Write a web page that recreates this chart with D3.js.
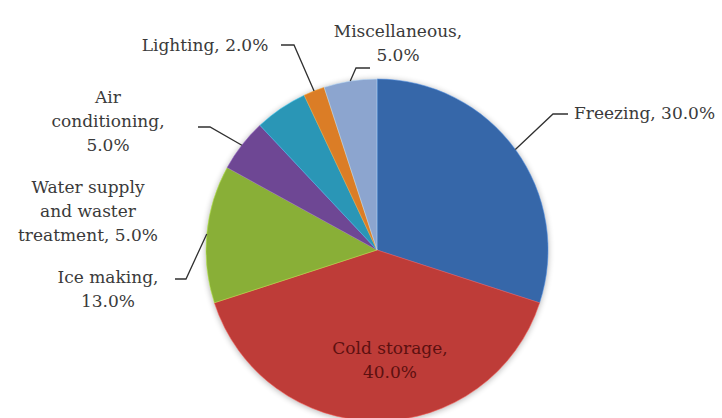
<!DOCTYPE html>
<html>
<head>
<meta charset="utf-8">
<script src="https://cdn.jsdelivr.net/npm/d3@7"></script>
<style>
  html, body { margin: 0; padding: 0; background: #fff; }
  svg { display: block; }
  .lbl { font-family: "DejaVu Serif", "Liberation Serif", serif; font-size: 17px; fill: #3a3a3a; }
  .lbl.inside { fill: #5c1010; }
  .leader { fill: none; stroke: #303030; stroke-width: 1.3; }
</style>
</head>
<body>
<div id="chart"></div>
<script>
// ===== data =====
const categories = ["Freezing", "Cold storage", "Ice making", "Air conditioning",
  "Water supply and waster treatment", "Lighting", "Miscellaneous"];
const values = [30, 40, 13, 5, 5, 2, 5];
const colors = ["#3c73bc", "#d4433e", "#98c33d", "#7a4fa5", "#2fa7cb", "#f48b2a", "#9cb8e6"];

// label layout (text lines, text anchor point, leader elbow) – placed as in the original
const labelLayout = [
  { lines: ["Freezing, 30.0%"], x: 574, y: 119, anchor: "start", elbow: [[553, 114], [568, 114]] },
  { lines: ["Cold storage,", "40.0%"], x: 390, y: 354, anchor: "middle", inside: true },
  { lines: ["Ice making,", "13.0%"], x: 108, y: 283, anchor: "middle", elbow: [[186, 279], [175, 279]] },
  { lines: ["Air", "conditioning,", "5.0%"], x: 108, y: 103, anchor: "middle", elbow: [[210, 127], [198, 127]] },
  { lines: ["Water supply", "and waster", "treatment, 5.0%"], x: 88, y: 193, anchor: "middle" },
  { lines: ["Lighting, 2.0%"], x: 205, y: 51, anchor: "middle", elbow: [[294, 45], [281, 45]] },
  { lines: ["Miscellaneous,", "5.0%"], x: 398, y: 37, anchor: "middle", elbow: [[356, 68], [370, 68]] }
];

const W = 722, H = 418;
const cx = 377, cy = 250, R = 171;
const lineH = 24;

const svg = d3.select("#chart").append("svg").attr("width", W).attr("height", H);
const defs = svg.append("defs");

// soft shadow
const sh = defs.append("filter").attr("id", "shadow").attr("x", "-10%").attr("y", "-10%")
  .attr("width", "120%").attr("height", "120%")
  .attr("color-interpolation-filters", "sRGB");
sh.append("feGaussianBlur").attr("in", "SourceAlpha").attr("stdDeviation", 3);
sh.append("feOffset").attr("dx", 0).attr("dy", 1).attr("result", "b");
sh.append("feComponentTransfer").append("feFuncA").attr("type", "linear").attr("slope", 0.3);
const mg = sh.append("feMerge");
mg.append("feMergeNode");
mg.append("feMergeNode").attr("in", "SourceGraphic");

// bevel-like radial gradients
colors.forEach((c, i) => {
  const base = d3.color(c);
  const g = defs.append("radialGradient").attr("id", "grad" + i)
    .attr("gradientUnits", "userSpaceOnUse")
    .attr("cx", cx).attr("cy", cy).attr("r", R);
  g.append("stop").attr("offset", "0%").attr("stop-color", base.darker(0.1));
  g.append("stop").attr("offset", "30%").attr("stop-color", base);
  g.append("stop").attr("offset", "91%").attr("stop-color", base);
  g.append("stop").attr("offset", "96%").attr("stop-color", base.brighter(0.3));
  g.append("stop").attr("offset", "100%").attr("stop-color", base.darker(0.3));
});

const pie = d3.pie().sort(null).value(d => d)
  .startAngle(0).endAngle(2 * Math.PI);
const arcs = pie(values);
const arc = d3.arc().innerRadius(0).outerRadius(R);
const edge = d3.arc().innerRadius(R).outerRadius(R);

const g = svg.append("g").attr("transform", `translate(${cx},${cy})`);
g.append("g").attr("filter", "url(#shadow)")
  .selectAll("path").data(arcs).join("path")
  .attr("d", arc)
  .attr("fill", (d, i) => `url(#grad${i})`)
  .attr("stroke", (d, i) => d3.color(colors[i]).brighter(0.6))
  .attr("stroke-width", 1)
  .attr("stroke-opacity", 0.5);

// leaders
const line = d3.line();
arcs.forEach((d, i) => {
  const L = labelLayout[i];
  if (!L.elbow) return;
  const p = edge.centroid(d);
  const start = [p[0] + cx, p[1] + cy];
  svg.append("path").attr("class", "leader").attr("d", line([start, ...L.elbow]));
});

// labels
labelLayout.forEach((L, i) => {
  const t = svg.append("text").attr("class", "lbl" + (L.inside ? " inside" : ""))
    .attr("text-anchor", L.anchor);
  L.lines.forEach((s, k) => {
    t.append("tspan").attr("x", L.x).attr("y", L.y + k * lineH).text(s);
  });
});
</script>
</body>
</html>
